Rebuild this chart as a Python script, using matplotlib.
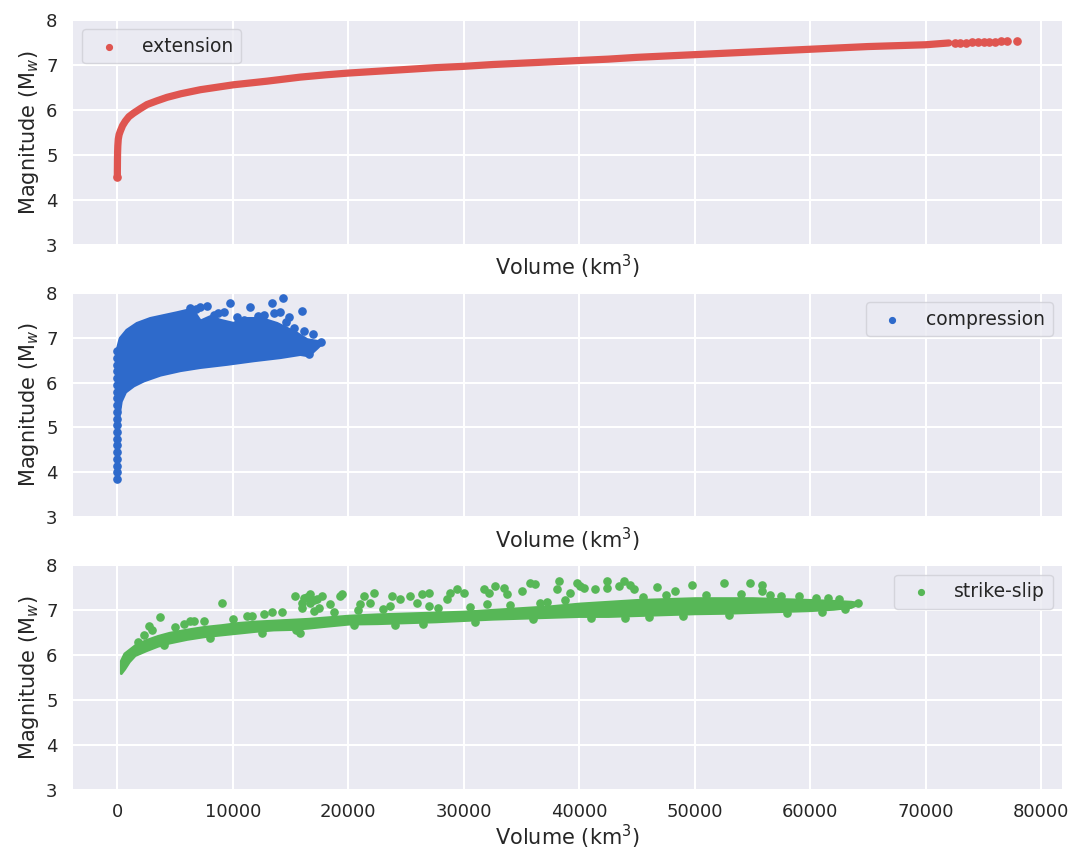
import matplotlib
matplotlib.use('Agg')
import matplotlib.pyplot as plt

plt.style.use('seaborn-v0_8-darkgrid')

# --------------------------------------------------------------
# data (volume in km^3, magnitude Mw)
ext_v = [0, 0, 5, 10, 20, 40, 80, 150, 260, 450, 690, 1000, 1410, 2000, 2570, 3400,
         4300, 5500, 7190, 8500, 10070, 12960, 15840, 18000, 20000, 22500, 25000,
         27500, 30000, 32500, 35000, 37500, 40000, 42500, 45000, 47500, 50000,
         52500, 55000, 57500, 60000, 62500, 65000, 67500, 70000, 71000, 72000]
ext_m = [4.50, 4.62, 4.75, 4.90, 5.05, 5.20, 5.35, 5.45, 5.53, 5.65, 5.75, 5.85,
         5.93, 6.03, 6.12, 6.20, 6.28, 6.36, 6.45, 6.50, 6.56, 6.64, 6.73, 6.78,
         6.82, 6.86, 6.90, 6.94, 6.97, 7.01, 7.04, 7.07, 7.10, 7.13, 7.17, 7.20,
         7.23, 7.26, 7.29, 7.32, 7.35, 7.38, 7.41, 7.43, 7.45, 7.47, 7.49]
# sparse tail of the extension curve
ext_tail_v = [72500, 73000, 73500, 74000, 74500, 75000, 75500, 76000, 76500, 77000, 77900]
ext_tail_m = [7.50, 7.50, 7.50, 7.51, 7.51, 7.52, 7.52, 7.52, 7.53, 7.53, 7.54]

# compression: dense cloud outline + stem + scattered points
comp_outline_v = [0, 0, 0, 260, 837, 1703, 2857, 4300, 5200, 6032, 6609, 7186, 8052, 8918,
                  10072, 10938, 12092, 12958, 13824, 14690, 15555, 16421, 17287, 17720,
                  17287, 16565, 15844, 14112, 11804, 9495, 7186, 5454, 3723, 2280,
                  1414, 692, 317, 150, 60]
comp_outline_m = [5.50, 6.30, 6.72, 6.98, 7.16, 7.31, 7.42, 7.50, 7.55, 7.60, 7.58, 7.36,
                  7.46, 7.38, 7.31, 7.42, 7.42, 7.38, 7.31, 7.20, 7.09, 6.95, 6.91,
                  6.88, 6.77, 6.60, 6.63, 6.56, 6.49, 6.41, 6.34, 6.27, 6.17, 6.04,
                  5.93, 5.79, 5.58, 5.30, 5.00]
comp_v = [0, 0, 0, 0, 0, 0, 0, 0, 0, 0, 0, 0, 0, 0, 0, 0, 0, 0, 0, 0,
          7186, 7763, 9206, 9783, 11515, 12669, 13391, 13535, 14112, 14343, 15988,
          16565, 16710, 15988, 17143, 17600, 6300, 6800, 8400, 8700, 10400, 11000,
          12200, 14900, 15300, 16900, 16200, 14600]
comp_m = [3.85, 4.00, 4.15, 4.30, 4.45, 4.60, 4.75, 4.90, 5.05, 5.20, 5.35, 5.50,
          5.65, 5.80, 5.95, 6.10, 6.25, 6.40, 6.55, 6.70,
          7.68, 7.71, 7.58, 7.76, 7.69, 7.51, 7.78, 7.54, 7.58, 7.87, 7.60,
          6.64, 6.75, 6.82, 6.86, 6.90, 7.66, 7.64, 7.50, 7.55, 7.45, 7.40,
          7.48, 7.45, 7.22, 7.08, 7.15, 7.35]

# strike-slip: dense band + scattered points
ss_band_v = [300, 600, 1000, 1500, 2500, 3500, 4500, 6000, 7500, 9000, 10500, 12000,
             13500, 15000, 16500, 18000, 20000, 22500, 25000, 27500, 30000, 32500,
             35000, 37500, 40000, 42500, 45000, 47500, 50000, 52500, 55000, 57500,
             60000, 62000, 63500, 64000]
ss_band_lo = [5.60, 5.70, 5.86, 6.00, 6.11, 6.21, 6.28, 6.36, 6.42, 6.46, 6.50, 6.54,
              6.57, 6.58, 6.61, 6.65, 6.70, 6.71, 6.73, 6.75, 6.78, 6.81, 6.83, 6.85,
              6.87, 6.87, 6.89, 6.91, 6.93, 6.94, 6.96, 6.98, 7.00, 7.03, 7.07, 7.13]
ss_band_hi = [5.88, 6.04, 6.12, 6.22, 6.34, 6.43, 6.50, 6.57, 6.63, 6.67, 6.72, 6.75,
              6.77, 6.79, 6.81, 6.84, 6.88, 6.91, 6.93, 6.95, 6.97, 7.01, 7.05, 7.09,
              7.15, 7.19, 7.23, 7.25, 7.27, 7.27, 7.27, 7.25, 7.23, 7.21, 7.19, 7.17]
ss_v = [2713, 3723, 9062, 6609, 5743, 6320, 7500, 11227, 11659, 12669, 13391, 14257,
        15411, 15988, 16710, 16710, 17720, 18441, 19307, 16998, 17300, 16200, 16400,
        17000, 16000, 17500, 15500, 15800,
        19451, 21327, 22193, 21039, 21904, 23780, 23636, 24502, 25368, 26378, 26955,
        25945, 26955, 28542, 28831, 29408, 29985, 31717, 32150, 32727, 33448, 33737,
        32006, 35036, 35757, 36190, 36623, 38210, 38066, 39220, 39797, 40086,
        40376, 41386, 42396, 42396, 43406, 43839, 44416, 44705, 46725, 48312, 49755,
        52497, 54806, 55816, 55816,
        4000, 8000, 12500, 20500, 24000, 26500, 31000, 36000, 41000, 44000, 46000,
        49000, 53000, 58000, 61000, 63000, 64100, 56500, 59000, 61500,
        1800, 2300, 3000, 5000, 10000, 18800, 20800, 23000, 27800, 30500, 34000,
        37200, 38800, 45500, 47500, 51000, 54000, 57500, 60500, 62500]
ss_m = [6.65, 6.84, 7.15, 6.76, 6.69, 6.76, 6.77, 6.87, 6.87, 6.91, 6.95, 6.95,
        7.32, 7.17, 7.36, 7.17, 7.32, 7.13, 7.32, 6.98, 7.25, 7.28, 7.30,
        7.22, 7.05, 7.05, 6.55, 6.50,
        7.35, 7.32, 7.39, 7.13, 7.17, 7.32, 7.10, 7.24, 7.32, 7.35, 7.39,
        7.17, 7.10, 7.24, 7.39, 7.47, 7.39, 7.47, 7.39, 7.54, 7.50, 7.35,
        7.13, 7.43, 7.61, 7.58, 7.17, 7.65, 7.47, 7.39, 7.61, 7.54,
        7.50, 7.47, 7.65, 7.50, 7.54, 7.64, 7.56, 7.47, 7.52, 7.43, 7.56,
        7.60, 7.61, 7.56, 7.43,
        6.22, 6.38, 6.50, 6.66, 6.68, 6.70, 6.74, 6.80, 6.82, 6.83, 6.85,
        6.87, 6.90, 6.94, 6.97, 7.02, 7.15, 7.34, 7.32, 7.28,
        6.30, 6.45, 6.55, 6.62, 6.80, 6.95, 7.00, 7.02, 7.05, 7.08, 7.12,
        7.18, 7.22, 7.30, 7.33, 7.34, 7.35, 7.31, 7.28, 7.25]

x_ticks = [0, 10000, 20000, 30000, 40000, 50000, 60000, 70000, 80000]

red = '#df5550'
blue = '#2e6acb'
green = '#57b757'
text_c = '#262626'

plt.rcParams['font.family'] = 'DejaVu Sans'
plt.rcParams['text.color'] = text_c
plt.rcParams['axes.labelcolor'] = text_c
plt.rcParams['xtick.color'] = text_c
plt.rcParams['ytick.color'] = text_c
plt.rcParams['grid.linewidth'] = 1.5

# --------------------------------------------------------------
fig, axes = plt.subplots(3, 1, figsize=(10.72, 8.56), dpi=100, sharex=True)
fig.subplots_adjust(left=0.068, right=0.9907, top=0.9766, bottom=0.0771, hspace=0.213)

leg_kw = dict(fontsize=13.5, frameon=True, facecolor='#EAEAF2', edgecolor='#cfcfd6',
              fancybox=True, markerscale=0.8)

ax = axes[0]
ax.plot(ext_v, ext_m, color=red, linewidth=5.2, solid_capstyle='round', zorder=2)
ax.scatter([ext_v[0]] + ext_tail_v, [ext_m[0]] + ext_tail_m, s=27, color=red, zorder=3,
           label='extension')
ax.legend(loc='upper left', **leg_kw)

ax = axes[1]
ax.fill(comp_outline_v, comp_outline_m, color=blue, linewidth=2.5, zorder=2)
ax.scatter(comp_v, comp_m, s=27, color=blue, zorder=3, label='compression')
ax.legend(loc='upper right', **leg_kw)

ax = axes[2]
ax.fill_between(ss_band_v, ss_band_lo, ss_band_hi, color=green, linewidth=2, zorder=2)
ax.scatter(ss_v, ss_m, s=27, color=green, zorder=3, label='strike-slip')
ax.legend(loc='upper right', **leg_kw)

for ax in axes:
    ax.set_ylim(3, 8)
    ax.set_yticks([3, 4, 5, 6, 7, 8])
    ax.set_ylabel("Magnitude (M$_w$)", fontsize=15)
    ax.set_xlabel("Volume (km$^3$)", fontsize=15, labelpad=6)
    ax.tick_params(axis='y', labelsize=13, pad=11)
    ax.tick_params(axis='x', labelsize=13, pad=9)
axes[2].set_xlabel("Volume (km$^3$)", fontsize=15, labelpad=2)
axes[2].set_xticks(x_ticks)
axes[2].set_xlim(-3850, 81800)

plt.savefig('out.png', dpi=100)
